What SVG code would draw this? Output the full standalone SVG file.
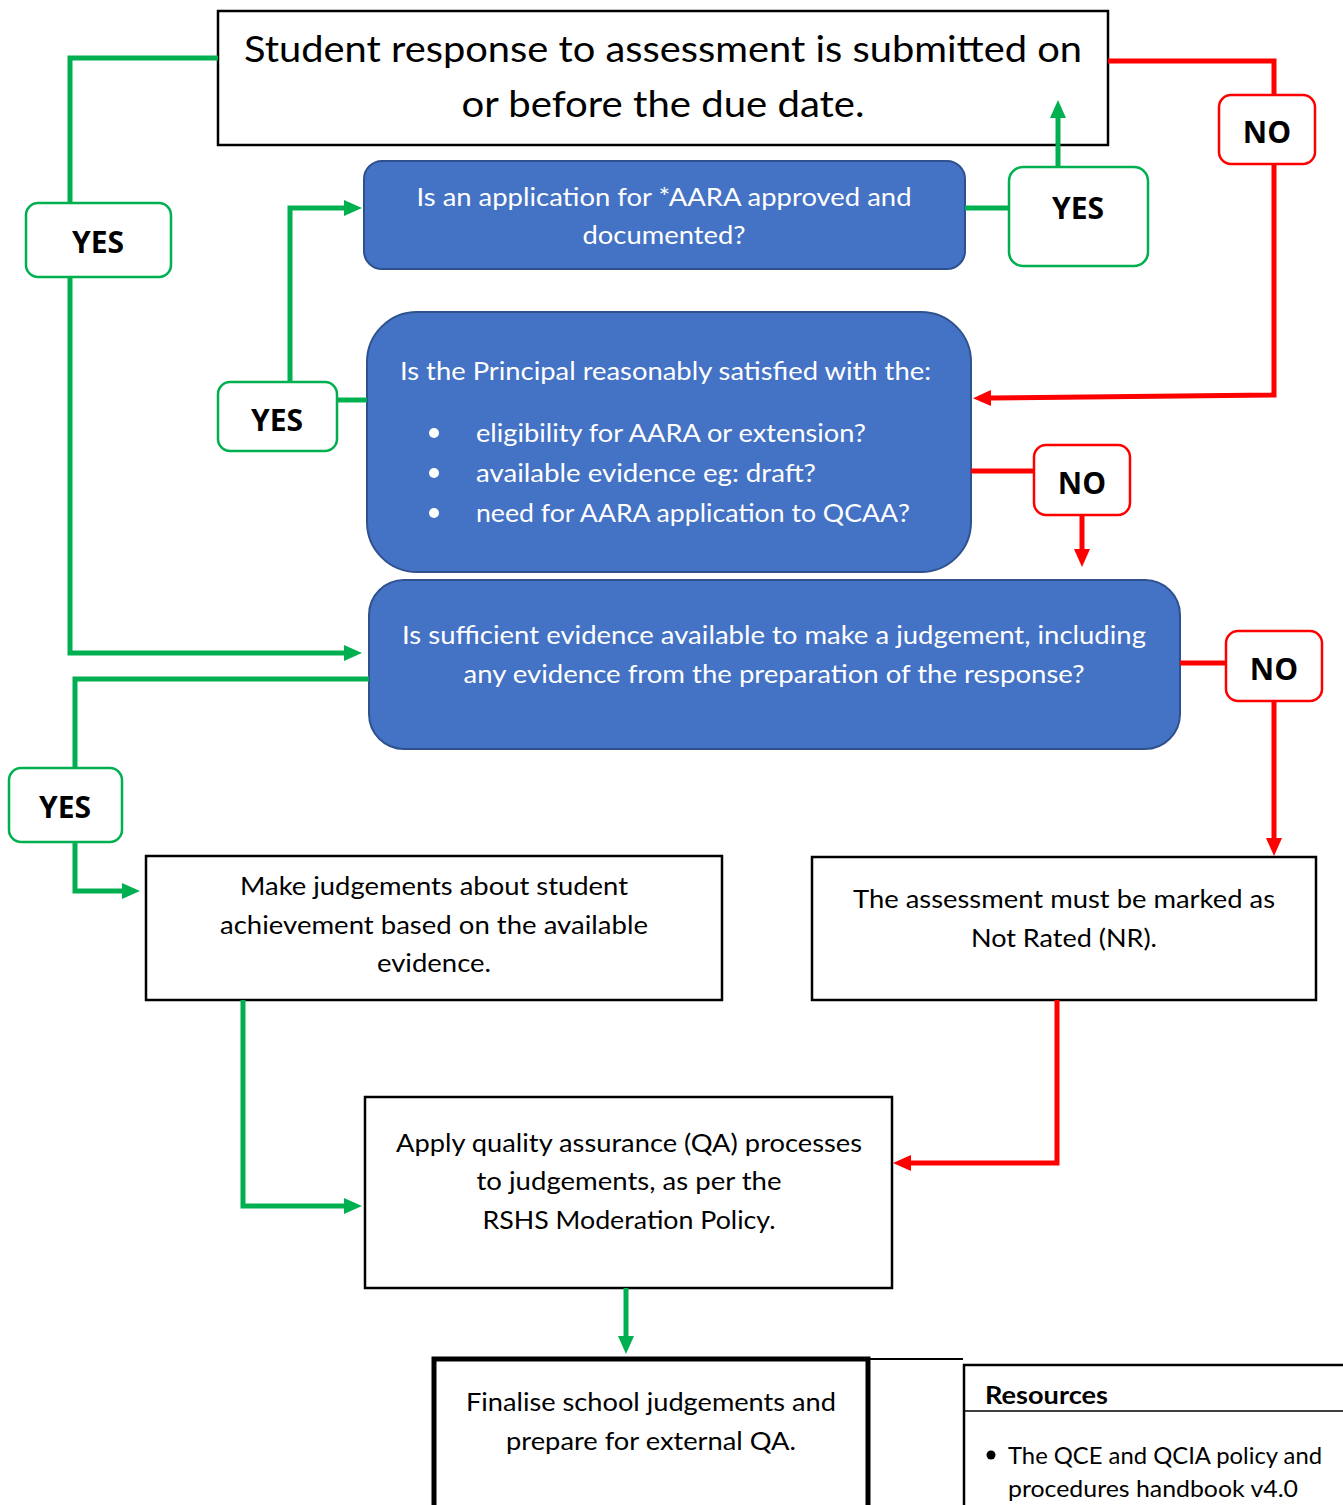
<svg xmlns="http://www.w3.org/2000/svg" width="1343" height="1505" viewBox="0 0 1343 1505">
<style>
text{font-family:Lato,"Open Sans","Liberation Sans",sans-serif;fill:#000}
.t{font-size:25px;text-anchor:middle}
.w{font-size:25px;fill:#fff}
.wm{text-anchor:middle}
.lbl{font-size:30px;font-weight:bold;text-anchor:middle;font-family:"Open Sans","Liberation Sans",sans-serif}
.box{fill:#fff;stroke:#000;stroke-width:2.5}
.blue{fill:#4472C4;stroke:#2F528F;stroke-width:2}
.yes{fill:#fff;stroke:#00B050;stroke-width:2.5}
.no{fill:#fff;stroke:#FF0000;stroke-width:2.5}
.g{fill:none;stroke:#00B050;stroke-width:5}
.r{fill:none;stroke:#FF0000;stroke-width:5}
.ga{marker-end:url(#ag)}
.ra{marker-end:url(#ar)}
</style>
<defs>
<marker id="ag" viewBox="0 0 18 16" refX="0" refY="8" markerWidth="18" markerHeight="16" markerUnits="userSpaceOnUse" orient="auto"><path d="M0,0 L18,8 L0,16 z" fill="#00B050"/></marker>
<marker id="ar" viewBox="0 0 18 16" refX="0" refY="8" markerWidth="18" markerHeight="16" markerUnits="userSpaceOnUse" orient="auto"><path d="M0,0 L18,8 L0,16 z" fill="#FF0000"/></marker>
</defs>
<rect width="1343" height="1505" fill="#fff"/>
<g id="start">
<rect class="box" x="218" y="11" width="890" height="134"/>
<text x="663" y="62" style="font-size:36px;text-anchor:middle" textLength="838" lengthAdjust="spacingAndGlyphs">Student response to assessment is submitted on</text>
<text x="663" y="117" style="font-size:36px;text-anchor:middle" textLength="403" lengthAdjust="spacingAndGlyphs">or before the due date.</text>
</g>
<g id="yes1">
<rect class="yes" x="26" y="203" width="145" height="74" rx="12"/>
<text class="lbl" x="98" y="253">YES</text>
</g>
<g id="aara">
<rect class="blue" x="364" y="161" width="601" height="108" rx="18"/>
<text class="w wm" x="664" y="206" textLength="495" lengthAdjust="spacingAndGlyphs">Is an application for *AARA approved and</text>
<text class="w wm" x="664" y="244" textLength="163" lengthAdjust="spacingAndGlyphs">documented?</text>
</g>
<g id="yes2">
<rect class="yes" x="1009" y="167" width="139" height="99" rx="14"/>
<text class="lbl" x="1078" y="219">YES</text>
</g>
<g id="no1">
<rect class="no" x="1219" y="95" width="96" height="69" rx="12"/>
<text class="lbl" x="1267" y="143">NO</text>
</g>
<g id="principal">
<rect class="blue" x="367" y="312" width="604" height="260" rx="50"/>
<text class="w" x="400" y="380" textLength="531" lengthAdjust="spacingAndGlyphs">Is the Principal reasonably satisfied with the:</text>
<circle cx="434" cy="433" r="5" fill="#fff"/>
<circle cx="434" cy="473" r="5" fill="#fff"/>
<circle cx="434" cy="513" r="5" fill="#fff"/>
<text class="w" x="476" y="442" textLength="390" lengthAdjust="spacingAndGlyphs">eligibility for AARA or extension?</text>
<text class="w" x="476" y="482" textLength="340" lengthAdjust="spacingAndGlyphs">available evidence eg: draft?</text>
<text class="w" x="476" y="522" textLength="434" lengthAdjust="spacingAndGlyphs">need for AARA application to QCAA?</text>
</g>
<g id="yes3">
<rect class="yes" x="218" y="382" width="119" height="69" rx="12"/>
<text class="lbl" x="277" y="431">YES</text>
</g>
<g id="no2">
<rect class="no" x="1034" y="445" width="96" height="70" rx="12"/>
<text class="lbl" x="1082" y="494">NO</text>
</g>
<g id="sufficient">
<rect class="blue" x="369" y="580" width="811" height="169" rx="35"/>
<text class="w wm" x="774" y="644" textLength="744" lengthAdjust="spacingAndGlyphs">Is sufficient evidence available to make a judgement, including</text>
<text class="w wm" x="774" y="683" textLength="621" lengthAdjust="spacingAndGlyphs">any evidence from the preparation of the response?</text>
</g>
<g id="no3">
<rect class="no" x="1226" y="631" width="96" height="70" rx="12"/>
<text class="lbl" x="1274" y="680">NO</text>
</g>
<g id="yes4">
<rect class="yes" x="9" y="768" width="113" height="74" rx="12"/>
<text class="lbl" x="65" y="818">YES</text>
</g>
<g id="judgements">
<rect class="box" x="146" y="856" width="576" height="144"/>
<text class="t" x="434" y="895" textLength="388" lengthAdjust="spacingAndGlyphs">Make judgements about student</text>
<text class="t" x="434" y="934" textLength="428" lengthAdjust="spacingAndGlyphs">achievement based on the available</text>
<text class="t" x="434" y="972" textLength="114" lengthAdjust="spacingAndGlyphs">evidence.</text>
</g>
<g id="notrated">
<rect class="box" x="812" y="857" width="504" height="143"/>
<text class="t" x="1064" y="908" textLength="422" lengthAdjust="spacingAndGlyphs">The assessment must be marked as</text>
<text class="t" x="1064" y="947" textLength="186" lengthAdjust="spacingAndGlyphs">Not Rated (NR).</text>
</g>
<g id="qa">
<rect class="box" x="365" y="1097" width="527" height="191"/>
<text class="t" x="629" y="1152" textLength="466" lengthAdjust="spacingAndGlyphs">Apply quality assurance (QA) processes</text>
<text class="t" x="629" y="1190" textLength="305" lengthAdjust="spacingAndGlyphs">to judgements, as per the</text>
<text class="t" x="629" y="1229" textLength="293" lengthAdjust="spacingAndGlyphs">RSHS Moderation Policy.</text>
</g>
<g id="finalise">
<rect x="434" y="1359" width="434" height="150" fill="#fff" stroke="#000" stroke-width="5"/>
<line x1="868" y1="1359" x2="963" y2="1359" stroke="#000" stroke-width="2"/>
<text class="t" x="651" y="1411" textLength="370" lengthAdjust="spacingAndGlyphs">Finalise school judgements and</text>
<text class="t" x="651" y="1450" textLength="290" lengthAdjust="spacingAndGlyphs">prepare for external QA.</text>
</g>
<g id="resources">
<path d="M964,1510 V1365 H1345" fill="none" stroke="#000" stroke-width="2.5"/>
<line x1="964" y1="1411" x2="1345" y2="1411" stroke="#000" stroke-width="1.5"/>
<text x="985" y="1404" style="font-size:24px;font-weight:bold" textLength="123" lengthAdjust="spacingAndGlyphs">Resources</text>
<circle cx="991" cy="1455" r="4.5" fill="#000"/>
<text x="1008" y="1464" style="font-size:24px" textLength="314" lengthAdjust="spacingAndGlyphs">The QCE and QCIA policy and</text>
<text x="1008" y="1497" style="font-size:24px" textLength="290" lengthAdjust="spacingAndGlyphs">procedures handbook v4.0</text>
</g>
<g id="connectors">
<path class="g" d="M218,58 H70 V203"/>
<path class="g ga" d="M70,277 V653 H344"/>
<path class="g" d="M965,208 H1009"/>
<path class="g ga" d="M1058,167 V118"/>
<path class="r" d="M1108,61 H1274 V95"/>
<path class="r ra" d="M1274,164 V395 L991,398"/>
<path class="g" d="M337,400 H367"/>
<path class="g ga" d="M290,382 V208 H344"/>
<path class="r" d="M971,471 H1034"/>
<path class="r ra" d="M1082,515 V549"/>
<path class="r" d="M1180,663 H1226"/>
<path class="r ra" d="M1274,701 V838"/>
<path class="g" d="M369,679 H75 V768"/>
<path class="g ga" d="M75,842 V891 H122"/>
<path class="g ga" d="M243,1000 V1206 H344"/>
<path class="r ra" d="M1057,1000 V1163 H911"/>
<path class="g ga" d="M626,1288 V1336"/>
</g>
</svg>
